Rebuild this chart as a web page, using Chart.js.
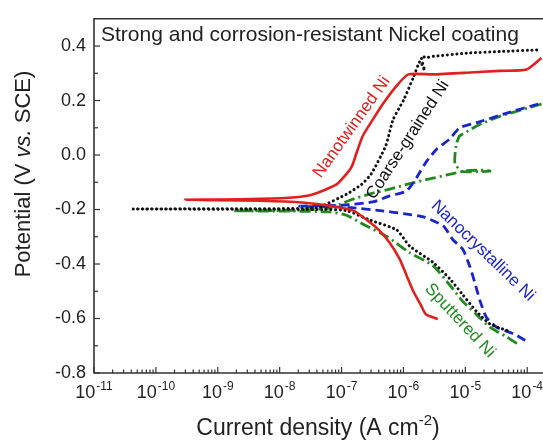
<!DOCTYPE html>
<html>
<head>
<meta charset="utf-8">
<script src="https://cdn.jsdelivr.net/npm/chart.js@4.4.1/dist/chart.umd.min.js"></script>
<style>
  html, body { margin: 0; padding: 0; background: #fff; }
  canvas { display: block; }
</style>
</head>
<body>
<canvas id="tafelChart" width="543" height="443"></canvas>
<script>
// ================== DATA ==================
// current density (A cm^-2) and potential (V vs. SCE), sweep order: cathodic -> Ecorr -> anodic
const ntCurrent = [3.6e-6, 2.3e-6, 1.9e-6, 1.45e-6, 1.12e-6, 8.7e-7, 6.0e-7, 4.0e-7, 2.8e-7, 1.55e-7,
  6.5e-8, 2.5e-8, 5.0e-9, 1.0e-9, 3.0e-10, 1.0e-9, 5.0e-9, 1.8e-8, 3.5e-8, 8.3e-8,
  1.3e-7, 1.5e-7, 1.7e-7, 2.2e-7, 3.2e-7, 4.7e-7, 7.8e-7, 1.2e-6, 3.0e-6, 1.05e-5, 3.6e-5, 9.8e-5, 1.7e-4];
const ntPotential = [-0.602, -0.584, -0.549, -0.501, -0.441, -0.382, -0.322, -0.275, -0.245, -0.204,
  -0.186, -0.175, -0.168, -0.166, -0.164, -0.163, -0.161, -0.155, -0.144, -0.108,
  -0.06, -0.037, 0.0, 0.07, 0.13, 0.189, 0.255, 0.296, 0.296, 0.302, 0.309, 0.314, 0.356];

const cgCurrent = [4.7e-5, 2.5e-5, 1.5e-5, 9.1e-6, 5.6e-6, 3.0e-6, 1.26e-6, 7.8e-7, 2.9e-7, 1.2e-7,
  5.0e-8, 3.2e-9, 4.3e-11, 3.2e-9, 4.0e-8, 5.0e-8, 1.2e-7, 2.1e-7, 3.0e-7, 5.2e-7,
  6.8e-7, 1.0e-6, 1.45e-6, 1.86e-6, 2.2e-6, 1.95e-6, 2.4e-6, 3.0e-6, 1.05e-5, 3.6e-5, 1.6e-4];
const cgPotential = [-0.644, -0.620, -0.573, -0.513, -0.454, -0.394, -0.334, -0.275, -0.239, -0.204,
  -0.200, -0.199, -0.198, -0.197, -0.195, -0.186, -0.144, -0.108, -0.07, 0.035,
  0.13, 0.201, 0.285, 0.344, 0.31, 0.36, 0.358, 0.362, 0.374, 0.380, 0.386];

const ncCurrent = [9.3e-5, 6.0e-5, 3.2e-5, 2.2e-5, 1.74e-5, 1.41e-5, 1.17e-5, 9.1e-6, 6.3e-6, 4.4e-6,
  2.1e-6, 1.0e-6, 4.2e-7, 1.26e-7, 2.1e-8, 1.0e-7, 3.2e-7, 6.0e-7, 1.12e-6, 1.62e-6,
  2.34e-6, 3.5e-6, 5.6e-6, 8.1e-6, 1.5e-5, 4.7e-5, 1.6e-4];
const ncPotential = [-0.680, -0.656, -0.632, -0.596, -0.537, -0.465, -0.406, -0.346, -0.311, -0.260,
  -0.227, -0.215, -0.204, -0.192, -0.188, -0.184, -0.172, -0.150, -0.132, -0.084,
  -0.025, 0.023, 0.059, 0.100, 0.118, 0.154, 0.189];

const spCurrent = [6.8e-5, 4.7e-5, 2.5e-5, 1.5e-5, 9.1e-6, 5.6e-6, 3.0e-6, 1.26e-6, 5.4e-7, 2.4e-7,
  1.2e-7, 6.5e-8, 1.6e-8, 1.8e-9, 1.6e-8, 6.3e-8, 1.4e-7, 3.2e-7, 6.0e-7, 1.26e-6,
  3.0e-6, 6.3e-6, 1.05e-5, 1.74e-5, 2.5e-5, 8.9e-6, 6.8e-6, 7.1e-6, 8.1e-6, 1.05e-5,
  1.5e-5, 3.6e-5, 9.8e-5, 1.8e-4];
const spPotential = [-0.692, -0.668, -0.632, -0.584, -0.537, -0.477, -0.406, -0.358, -0.299, -0.258,
  -0.221, -0.209, -0.206, -0.205, -0.203, -0.195, -0.165, -0.140, -0.125, -0.105,
  -0.085, -0.068, -0.057, -0.055, -0.059, -0.060, -0.031, 0.035, 0.070, 0.085,
  0.106, 0.142, 0.171, 0.189];

const xTickExps = [-11, -10, -9, -8, -7, -6, -5, -4];
const yTicks = [-0.8, -0.6, -0.4, -0.2, 0.0, 0.2, 0.4];
const yMinorTicks = [-0.7, -0.5, -0.3, -0.1, 0.1, 0.3];

// ================== STYLE ==================
const FONT = '"Liberation Sans", Arial, Helvetica, sans-serif';
const TEXT = "#222";
const AXIS = "#333";
const RED = "#e0201e";
const BLACK = "#111";
const BLUE = "#1a24c8";
const GREEN = "#218a1f";

const curveLabels = [
  { text: "Nanotwinned Ni", color: RED, x: 1.47e-7, y: 0.1025, angle: -54.5 },
  { text: "Coarse-grained Ni", color: BLACK, x: 1.18e-6, y: 0.056, angle: -57 },
  { text: "Nanocrystalline Ni", color: BLUE, x: 1.93e-5, y: -0.352, angle: 44 },
  { text: "Sputtered Ni", color: GREEN, x: 8.2e-6, y: -0.608, angle: 47 },
];

const toPoints = (xs, ys) => xs.map((x, i) => ({ x, y: ys[i] }));

// ================== DECORATION PLUGIN ==================
function line(ctx, x1, y1, x2, y2) {
  ctx.beginPath();
  ctx.moveTo(x1, y1);
  ctx.lineTo(x2, y2);
  ctx.stroke();
}

const decorPlugin = {
  id: "decor",
  afterDraw(chart) {
    const { ctx, chartArea: a, scales: { x, y } } = chart;
    ctx.save();

    // frame: left, bottom, top
    ctx.strokeStyle = AXIS;
    ctx.lineWidth = 1.6;
    ctx.beginPath();
    ctx.moveTo(a.right + 2, a.top);
    ctx.lineTo(a.left, a.top);
    ctx.lineTo(a.left, a.bottom);
    ctx.lineTo(a.right + 2, a.bottom);
    ctx.stroke();

    // inward ticks on x
    ctx.lineWidth = 1.2;
    xTickExps.forEach((e) => {
      for (let k = 1; k <= 9; k++) {
        const v = k * Math.pow(10, e);
        if (v > x.max) break;
        const px = x.getPixelForValue(v);
        line(ctx, px, a.bottom, px, a.bottom - (k === 1 ? 6 : 3.5));
      }
    });
    // inward ticks on y
    yTicks.forEach((v) => {
      const py = y.getPixelForValue(v);
      line(ctx, a.left, py, a.left + 6, py);
    });
    yMinorTicks.forEach((v) => {
      const py = y.getPixelForValue(v);
      line(ctx, a.left, py, a.left + 4, py);
    });

    // x tick labels 10^n
    ctx.fillStyle = TEXT;
    ctx.textBaseline = "alphabetic";
    ctx.textAlign = "left";
    xTickExps.forEach((e) => {
      const px = x.getPixelForValue(Math.pow(10, e));
      ctx.font = "18px " + FONT;
      const wb = ctx.measureText("10").width;
      ctx.font = "12px " + FONT;
      const we = ctx.measureText(String(e)).width;
      const x0 = px - (wb + we + 1) / 2;
      ctx.font = "18px " + FONT;
      ctx.fillText("10", x0, a.bottom + 25);
      ctx.font = "12px " + FONT;
      ctx.fillText(String(e), x0 + wb + 1, a.bottom + 17);
    });

    // x axis title
    const cx = 318, by = 435;
    ctx.font = "23px " + FONT;
    const p1 = "Current density (A cm", p3 = ")";
    const w1 = ctx.measureText(p1).width, w3 = ctx.measureText(p3).width;
    ctx.font = "15px " + FONT;
    const w2 = ctx.measureText("-2").width;
    let sx = cx - (w1 + w2 + w3) / 2;
    ctx.font = "23px " + FONT;
    ctx.fillText(p1, sx, by);
    ctx.font = "15px " + FONT;
    ctx.fillText("-2", sx + w1, by - 10);
    ctx.font = "23px " + FONT;
    ctx.fillText(p3, sx + w1 + w2, by);

    // y axis title (rotated, "vs." italic)
    ctx.save();
    ctx.translate(24, 174);
    ctx.rotate(-Math.PI / 2);
    ctx.textBaseline = "middle";
    const parts = [
      { t: "Potential (V ", f: "22px " + FONT },
      { t: "vs.", f: "italic 22px " + FONT },
      { t: " SCE)", f: "22px " + FONT },
    ];
    let total = 0;
    parts.forEach((p) => { ctx.font = p.f; p.w = ctx.measureText(p.t).width; total += p.w; });
    let tx = -total / 2;
    parts.forEach((p) => { ctx.font = p.f; ctx.fillText(p.t, tx, 0); tx += p.w; });
    ctx.restore();

    // title inside plot
    ctx.font = "21px " + FONT;
    ctx.textBaseline = "alphabetic";
    ctx.fillText("Strong and corrosion-resistant Nickel coating", a.left + 7, a.top + 22);

    // curve labels
    ctx.font = "17px " + FONT;
    ctx.textAlign = "center";
    ctx.textBaseline = "middle";
    curveLabels.forEach((l) => {
      ctx.save();
      ctx.translate(x.getPixelForValue(l.x), y.getPixelForValue(l.y));
      ctx.rotate((l.angle * Math.PI) / 180);
      ctx.fillStyle = l.color;
      ctx.fillText(l.text, 0, 0);
      ctx.restore();
    });

    ctx.restore();
  },
};

// ================== CHART ==================
const common = { showLine: true, pointRadius: 0, fill: false, tension: 0.2 };

const chart = new Chart(document.getElementById("tafelChart"), {
  type: "scatter",
  data: {
    datasets: [
      { ...common, label: "Nanotwinned Ni", data: toPoints(ntCurrent, ntPotential),
        borderColor: RED, borderWidth: 2.6 },
      { ...common, label: "Coarse-grained Ni", data: toPoints(cgCurrent, cgPotential),
        borderColor: BLACK, borderWidth: 3, borderDash: [0.1, 4.6], borderCapStyle: "round" },
      { ...common, label: "Nanocrystalline Ni", data: toPoints(ncCurrent, ncPotential),
        borderColor: BLUE, borderWidth: 2.8, borderDash: [9, 5] },
      { ...common, label: "Sputtered Ni", data: toPoints(spCurrent, spPotential),
        borderColor: GREEN, borderWidth: 2.8, borderDash: [11, 4, 2, 4] },
    ],
  },
  options: {
    responsive: false,
    animation: false,
    layout: { padding: { top: 10, right: 0, bottom: 0, left: 0 } },
    plugins: { legend: { display: false }, tooltip: { enabled: false } },
    scales: {
      x: {
        type: "logarithmic",
        min: 1e-11,
        max: 1.8e-4,
        grid: { display: false, drawTicks: false },
        border: { display: false },
        ticks: { display: false },
        afterFit: (s) => { s.height = 70; },
      },
      y: {
        min: -0.8,
        max: 0.5,
        afterBuildTicks: (s) => { s.ticks = yTicks.map((v) => ({ value: v })); },
        grid: { display: false, drawTicks: false },
        border: { display: false },
        ticks: {
          padding: 8,
          color: TEXT,
          font: { family: FONT, size: 18 },
          callback: (v) => Number(v).toFixed(1),
        },
        afterFit: (s) => { s.width = 94; },
      },
    },
  },
  plugins: [decorPlugin],
});
</script>
</body>
</html>
